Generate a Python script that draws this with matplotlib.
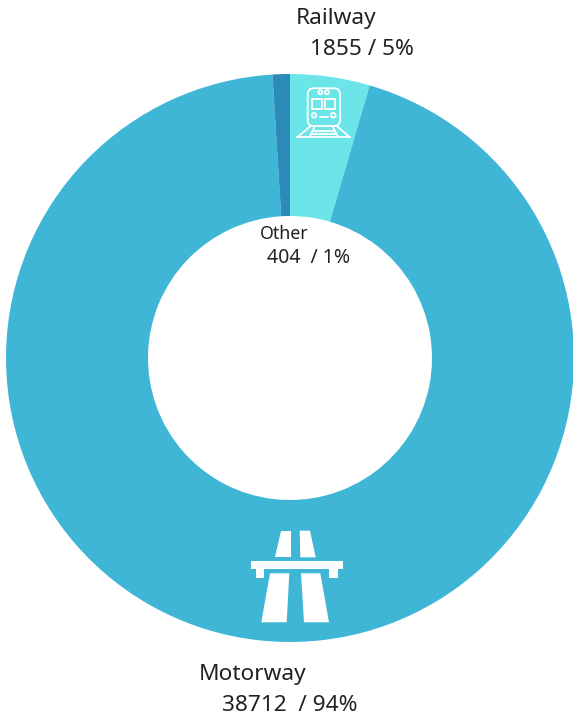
import matplotlib
matplotlib.use("Agg")
import matplotlib.pyplot as plt
from matplotlib.patches import Polygon, Rectangle, Circle, FancyBboxPatch

names = ["Railway", "Motorway", "Other"]
values = [1855, 38712, 404]
shares = ["5%", "94%", "1%"]
colors = ["#6CE5E8", "#40B6D6", "#2B8AB8"]

W, H = 573, 718
plt.rcParams["font.family"] = ["Noto Sans", "DejaVu Sans"]
TEXT = "#222222"


def Y(y):
    # icon and label positions are measured from the top of the figure
    return H - y


def poly(ax, pts, **kw):
    ax.add_patch(Polygon([(x, Y(y)) for x, y in pts], closed=True, **kw))


def motorway_icon(ax):
    white = dict(facecolor="white", edgecolor="none", zorder=3)
    poly(ax, [(280.7, 530.7), (291, 530.7), (291, 557.3), (275.3, 557.3)], **white)
    poly(ax, [(299.7, 530.7), (310, 530.7), (315.7, 557.3), (300.3, 557.3)], **white)
    poly(ax, [(270, 573.3), (289.3, 573.3), (286.7, 622.3), (261.3, 622.3)], **white)
    poly(ax, [(301, 573.3), (320.3, 573.3), (329, 622.3), (304, 622.3)], **white)
    # bridge deck and its two feet
    poly(ax, [(250.7, 560.7), (343, 560.7), (343, 569.3), (338.3, 569.3), (338.3, 577.7),
              (329.3, 577.7), (329.3, 569.3), (264, 569.3), (264, 577.7), (255.7, 577.7),
              (255.7, 569.3), (250.7, 569.3)], **white)


def train_icon(ax):
    line = dict(color="white", linewidth=1.3, zorder=3, solid_capstyle="round")
    outline = dict(facecolor="none", edgecolor="white", linewidth=1.3, zorder=3)
    ax.add_patch(FancyBboxPatch((309.7, Y(124)), 28.3, 33.7,
                                boxstyle="round,pad=2,rounding_size=6", **outline))
    ax.add_patch(Rectangle((311.7, Y(109)), 10, 10, **outline))
    ax.add_patch(Rectangle((325.3, Y(109)), 10, 10, **outline))
    for cx, cy, r in [(320.3, 92.3, 2), (327, 92.3, 2), (314, 115.3, 2.3), (333.3, 115.3, 2.3)]:
        ax.add_patch(Circle((cx, Y(cy)), r, **outline))
    segments = [
        ((320.3, 117), (327.7, 117)),
        ((310.7, 126), (297.3, 137.3)),
        ((336.7, 126), (350, 137.3)),
        ((297.3, 137.3), (350, 137.3)),
        ((315, 126), (309.3, 137.3)),
        ((332.3, 126), (338.3, 137.3)),
        ((313, 130.5), (334.5, 130.5)),
        ((311, 134), (336.5, 134)),
    ]
    for (x0, y0), (x1, y1) in segments:
        ax.plot([x0, x1], [Y(y0), Y(y1)], **line)


fig = plt.figure(figsize=(W / 100, H / 100), dpi=100)
ax = fig.add_axes([0, 0, 1, 1])
ax.pie(values, colors=colors, startangle=90, counterclock=False,
       center=(290, Y(358)), radius=284,
       wedgeprops=dict(width=142, linewidth=0))
ax.set_xlim(0, W)
ax.set_ylim(0, H)
ax.set_aspect("equal")
ax.axis("off")

motorway_icon(ax)
train_icon(ax)

big = dict(fontsize=16.3, color=TEXT, va="baseline", ha="left", zorder=4)
ax.text(296, Y(24), names[0], **big)
ax.text(310, Y(55), f"{values[0]} / {shares[0]}", **big)
ax.text(199, Y(680), names[1], **big)
ax.text(222, Y(711), f"{values[1]}  / {shares[1]}", **big)
ax.text(260, Y(239), names[2], fontsize=12.8, color=TEXT, va="baseline", ha="left", zorder=4)
ax.text(267, Y(263), f"{values[2]}  / {shares[2]}", fontsize=14, color=TEXT, va="baseline", ha="left", zorder=4)

fig.savefig("out.png", dpi=100)
